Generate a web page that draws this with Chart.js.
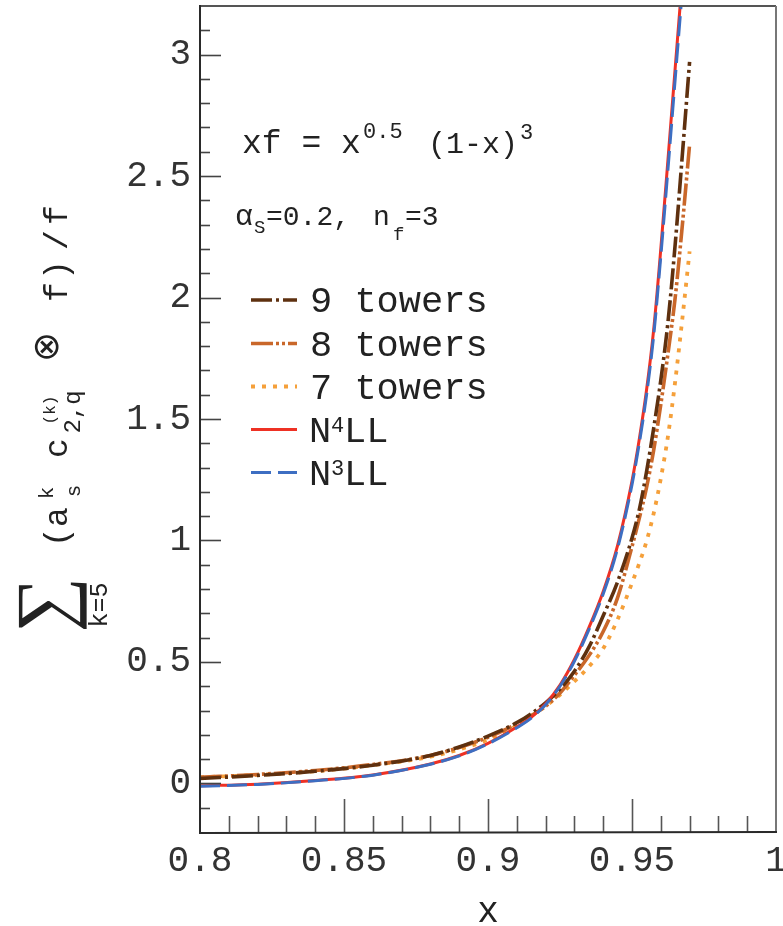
<!DOCTYPE html>
<html><head><meta charset="utf-8">
<script src="https://cdn.jsdelivr.net/npm/chart.js@4.4.1/dist/chart.umd.min.js"></script>
<style>html,body{margin:0;padding:0;background:#fff}#wrap{width:783px;height:926px}</style>
</head><body><div id="wrap"><canvas id="c" width="783" height="926"></canvas></div>
<script>
// ---- data ----
const xGrid  = [0.80, 0.82, 0.84, 0.86, 0.88, 0.89, 0.90, 0.91, 0.915, 0.92, 0.925, 0.93, 0.935, 0.94, 0.945, 0.95, 0.9525, 0.955, 0.9575, 0.96, 0.9625, 0.965, 0.9675, 0.97];
const tower9 = [0.020, 0.033, 0.050, 0.075, 0.115, 0.150, 0.195, 0.250, 0.287, 0.332, 0.388, 0.462, 0.560, 0.690, 0.830, 1.010, 1.125, 1.280, 1.460, 1.660, 1.900, 2.220, 2.590, 2.970];
const tower8 = [0.025, 0.037, 0.053, 0.078, 0.115, 0.148, 0.190, 0.245, 0.279, 0.318, 0.372, 0.445, 0.525, 0.625, 0.765, 0.975, 1.090, 1.215, 1.370, 1.560, 1.770, 2.000, 2.300, 2.630];
const tower7 = [0.025, 0.035, 0.050, 0.075, 0.110, 0.140, 0.180, 0.238, 0.277, 0.318, 0.365, 0.420, 0.480, 0.555, 0.675, 0.825, 0.905, 0.995, 1.110, 1.255, 1.430, 1.655, 1.915, 2.190];
const n4ll   = [-0.010, -0.003, 0.012, 0.035, 0.080, 0.115, 0.165, 0.232, 0.272, 0.328, 0.405, 0.510, 0.640, 0.790, 0.980, 1.245, 1.415, 1.615, 1.865, 2.200, 2.570, 2.945, 3.320, 3.700];
const n3ll   = [-0.012, -0.004, 0.011, 0.034, 0.079, 0.113, 0.163, 0.229, 0.269, 0.324, 0.400, 0.503, 0.632, 0.780, 0.968, 1.230, 1.398, 1.595, 1.840, 2.170, 2.530, 2.900, 3.270, 3.640];
const seriesLabels = ['9 towers', '8 towers', '7 towers', 'N4LL', 'N3LL'];
const xTickLabels = [0.8, 0.85, 0.9, 0.95, 1];
const yTickLabels = [0, 0.5, 1, 1.5, 2, 2.5, 3];

const MONO = "'Liberation Mono', 'DejaVu Sans Mono', monospace";
const pts = arr => xGrid.map((x, i) => ({x: x, y: arr[i]}));

const styles = [
  {color: '#5e300f', dash: [21, 4, 3, 4], width: 3.6, order: 3},
  {color: '#c9672a', dash: [22, 3, 3, 3, 3, 3], width: 3.6, order: 4},
  {color: '#f5a03a', dash: [4, 7], width: 3.8, order: 5},
  {color: '#ee3124', dash: [], width: 3, order: 2},
  {color: '#3d6ec2', dash: [20, 7], width: 3, order: 1}
];
const seriesData = [tower9, tower8, tower7, n4ll, n3ll];

const datasets = seriesData.map((arr, k) => ({
  label: seriesLabels[k],
  data: pts(arr),
  borderColor: styles[k].color,
  backgroundColor: styles[k].color,
  borderWidth: styles[k].width,
  borderDash: styles[k].dash,
  borderCapStyle: 'butt',
  pointRadius: 0,
  fill: false,
  cubicInterpolationMode: 'monotone',
  order: styles[k].order
}));

function txt(ctx, s, x, y, font, align, base) {
  ctx.font = font; ctx.textAlign = align || 'left'; ctx.textBaseline = base || 'alphabetic';
  ctx.fillText(s, x, y);
}
function rot(ctx, s, sx, sy, font, base) {
  ctx.save(); ctx.translate(sx, sy); ctx.rotate(-Math.PI / 2);
  ctx.font = font; ctx.textAlign = 'center'; ctx.textBaseline = base || 'alphabetic';
  ctx.fillText(s, 0, 0); ctx.restore();
}

const decor = {
  id: 'decor',
  beforeDraw(chart) {
    const ctx = chart.ctx;
    ctx.save(); ctx.fillStyle = '#fff'; ctx.fillRect(0, 0, chart.width, chart.height); ctx.restore();
  },
  afterDraw(chart) {
    const ctx = chart.ctx, a = chart.chartArea;
    const xs = chart.scales.x, ys = chart.scales.y;
    ctx.save();
    // ticks
    ctx.strokeStyle = '#444'; ctx.lineWidth = 1.6;
    for (let i = -1; i <= 31; i++) {
      const py = Math.round(ys.getPixelForValue(i / 10)) + 0.5;
      const len = (i % 5 === 0) ? 21 : 10;
      ctx.beginPath(); ctx.moveTo(a.left, py); ctx.lineTo(a.left + len, py); ctx.stroke();
    }
    ctx.strokeStyle = '#555';
    for (let i = 81; i <= 99; i++) {
      const px = Math.round(xs.getPixelForValue(i / 100)) + 0.5;
      const len = (i % 5 === 0) ? 33 : 16;
      ctx.beginPath(); ctx.moveTo(px, a.bottom); ctx.lineTo(px, a.bottom - len); ctx.stroke();
    }
    // frame
    ctx.lineWidth = 2;
    ctx.strokeStyle = '#555';
    ctx.beginPath(); ctx.moveTo(a.left, a.top); ctx.lineTo(a.right, a.top); ctx.stroke();
    ctx.strokeStyle = '#777';
    ctx.beginPath(); ctx.moveTo(a.right, a.top); ctx.lineTo(a.right, a.bottom); ctx.stroke();
    ctx.strokeStyle = '#2a2a2a';
    ctx.beginPath(); ctx.moveTo(a.left, a.top - 1); ctx.lineTo(a.left, a.bottom + 1); ctx.lineTo(a.right + 1, a.bottom); ctx.stroke();

    // annotations
    ctx.fillStyle = '#222';
    txt(ctx, 'xf = x', 242, 153, '33px ' + MONO);
    txt(ctx, '0.5', 363, 138, '22px ' + MONO);
    txt(ctx, '(1-x)', 428, 153, '30px ' + MONO);
    txt(ctx, '3', 520, 139, '22px ' + MONO);

    txt(ctx, '\u03B1', 235, 225, '30px ' + MONO);
    txt(ctx, 'S', 254, 233, '19px ' + MONO);
    txt(ctx, '=0.2,', 266, 225, '28px ' + MONO);
    txt(ctx, 'n', 373, 225, '28px ' + MONO);
    txt(ctx, 'f', 393, 240, '19px ' + MONO);
    txt(ctx, '=3', 405, 225, '28px ' + MONO);

    // legend
    const legY = [300, 343.5, 386.5, 429.5, 472.5];
    chart.data.datasets.forEach((ds, k) => {
      const y = legY[k];
      ctx.save();
      ctx.strokeStyle = ds.borderColor; ctx.lineWidth = ds.borderWidth; ctx.setLineDash(ds.borderDash); ctx.lineCap = 'butt';
      ctx.beginPath(); ctx.moveTo(251, y); ctx.lineTo(297, y); ctx.stroke();
      ctx.restore();
      ctx.fillStyle = '#222';
      const lab = ds.label;
      if (lab === 'N4LL' || lab === 'N3LL') {
        txt(ctx, 'N', 309, y + 12, '37px ' + MONO);
        txt(ctx, lab.charAt(1), 331, y + 2, '22px ' + MONO);
        txt(ctx, 'LL', 344, y + 12, '37px ' + MONO);
      } else {
        txt(ctx, lab, 310, y + 12, '37px ' + MONO);
      }
    });

    // x title
    ctx.fillStyle = '#222';
    txt(ctx, 'x', 488, 922, '36px ' + MONO, 'center');

    // y title (rotated)
    rot(ctx, '\u2211', 50, 605, '78px "Liberation Serif", "DejaVu Serif", serif', 'middle');
    rot(ctx, 'k=5', 107, 605, '25px ' + MONO);
    rot(ctx, '(', 67, 537, '33px ' + MONO);
    rot(ctx, 'a', 67, 517, '33px ' + MONO);
    rot(ctx, 'k', 53, 493, '21px ' + MONO);
    rot(ctx, 's', 80, 491, '21px ' + MONO);
    rot(ctx, 'c', 67, 448, '33px ' + MONO);
    rot(ctx, '(k)', 55, 410, '16px ' + MONO);
    rot(ctx, '2,q', 80, 412, '24px ' + MONO);
    rot(ctx, '\u2297', 49, 347, '36px "DejaVu Sans", sans-serif', 'middle');
    rot(ctx, 'f', 67, 292, '33px ' + MONO);
    rot(ctx, ')', 67, 270, '33px ' + MONO);
    rot(ctx, '/', 67, 240, '33px ' + MONO);
    rot(ctx, 'f', 67, 215, '33px ' + MONO);
    ctx.restore();
  }
};

new Chart(document.getElementById('c'), {
  type: 'line',
  data: {datasets: datasets},
  options: {
    responsive: false, animation: false, devicePixelRatio: 1,
    layout: {padding: {top: 6, right: 7, left: 0, bottom: 0}},
    plugins: {legend: {display: false}, tooltip: {enabled: false}},
    scales: {
      x: {
        type: 'linear', min: 0.8, max: 1,
        grid: {display: false, drawTicks: false}, border: {display: false},
        ticks: {font: {family: MONO, size: 36}, color: '#333', padding: 8, maxRotation: 0, autoSkip: false,
                callback: v => String(v)},
        afterBuildTicks: s => { s.ticks = xTickLabels.map(v => ({value: v})); },
        afterFit: s => { s.height = 94; s.paddingLeft = 0; s.paddingRight = 0; }
      },
      y: {
        type: 'linear', min: -0.2, max: 3.2,
        grid: {display: false, drawTicks: false}, border: {display: false},
        ticks: {font: {family: MONO, size: 36}, color: '#333', padding: 9, autoSkip: false,
                callback: v => String(v)},
        afterBuildTicks: s => { s.ticks = yTickLabels.map(v => ({value: v})); },
        afterFit: s => { s.width = 200; s.paddingTop = 0; s.paddingBottom = 0; }
      }
    }
  },
  plugins: [decor]
});
</script></body></html>
